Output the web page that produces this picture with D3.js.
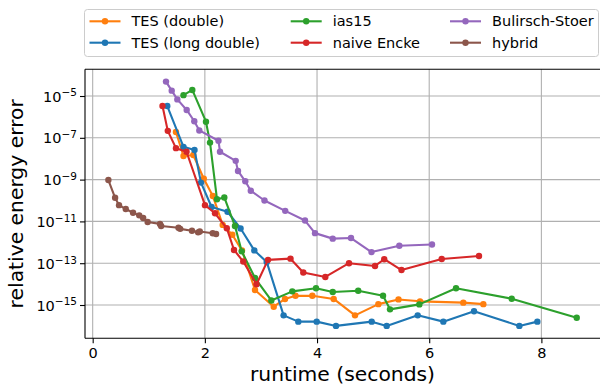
<!DOCTYPE html>
<html>
<head>
<meta charset="utf-8">
<script src="https://cdn.jsdelivr.net/npm/d3@7"></script>
<style>
  html, body { margin: 0; padding: 0; background: #fff; }
  svg { display: block; font-family: "DejaVu Sans", sans-serif; }
</style>
</head>
<body>
<svg id="chart" width="600" height="388"></svg>
<script>
// Runtime (seconds) and relative energy error for each integrator
const tesDoubleTime = [1.485, 1.619, 1.794, 1.981, 2.142, 2.318, 2.489, 2.662, 2.894, 3.228, 3.429, 3.616, 3.916, 4.297, 4.677, 5.093, 5.453, 5.836, 6.608, 6.965];
const tesDoubleErr  = [1.9e-7, 1.35e-8, 1.5e-8, 1.1e-9, 1.65e-10, 6.8e-12, 2.3e-12, 4.1e-13, 5.2e-15, 8.3e-16, 1.95e-15, 2.75e-15, 2.75e-15, 1.95e-15, 3.2e-16, 1.1e-15, 1.85e-15, 1.5e-15, 1.3e-15, 1.1e-15];

const tesLongTime = [1.330, 1.619, 1.815, 1.931, 2.120, 2.404, 2.637, 2.882, 3.103, 3.404, 3.666, 3.994, 4.338, 4.975, 5.242, 5.795, 6.252, 6.799, 7.607, 7.928];
const tesLongErr  = [3.3e-6, 3.7e-8, 2.6e-8, 7.2e-10, 4.9e-11, 2.9e-11, 4.6e-12, 4.1e-13, 1.15e-13, 3.2e-16, 1.6e-16, 1.6e-16, 1.0e-16, 1.6e-16, 1.0e-16, 3.2e-16, 1.6e-16, 5.0e-16, 1.0e-16, 1.6e-16];

const ias15Time = [1.619, 1.776, 2.020, 2.092, 2.216, 2.347, 2.537, 2.657, 2.894, 3.185, 3.559, 3.982, 4.280, 4.734, 5.177, 5.301, 5.824, 6.478, 7.471, 8.630];
const ias15Err  = [1.1e-5, 1.95e-5, 5.9e-7, 5.9e-8, 1.15e-10, 1.4e-10, 6.0e-12, 3.7e-13, 1.95e-14, 1.65e-15, 4.5e-15, 6.3e-15, 4.2e-15, 4.8e-15, 2.75e-15, 6.2e-16, 1.07e-15, 6.3e-15, 2.0e-15, 2.45e-16];

const enckeTime = [1.245, 1.339, 1.485, 1.673, 2.002, 2.181, 2.391, 2.520, 2.685, 2.921, 3.126, 3.527, 3.755, 4.148, 4.570, 5.034, 5.198, 5.506, 6.223, 6.888];
const enckeErr  = [3.3e-6, 2.15e-7, 3.2e-8, 2.15e-8, 6.0e-11, 2.45e-11, 4.7e-12, 4.3e-13, 1.2e-13, 9.8e-15, 1.45e-13, 1.65e-13, 3.6e-14, 2.2e-14, 1.0e-13, 7.4e-14, 1.55e-13, 4.7e-14, 1.6e-13, 2.2e-13];

const bsTime = [1.307, 1.409, 1.509, 1.676, 1.812, 1.901, 2.243, 2.270, 2.550, 2.591, 2.721, 2.819, 3.063, 3.433, 3.786, 3.964, 4.280, 4.606, 4.971, 5.467, 6.050];
const bsErr  = [4.9e-5, 1.8e-5, 6.9e-6, 2.15e-6, 6.2e-7, 2.25e-7, 7.2e-8, 2.15e-8, 7.9e-9, 2.6e-9, 8.3e-10, 2.95e-10, 1.0e-10, 3.2e-11, 1.1e-11, 2.75e-12, 1.5e-12, 1.6e-12, 3.4e-13, 6.8e-13, 7.9e-13];

const hybridTime = [0.28, 0.40, 0.47, 0.59, 0.72, 0.83, 0.90, 0.98, 1.20, 1.22, 1.53, 1.56, 1.77, 1.88, 1.91, 2.14, 2.20];
const hybridErr  = [9.5e-10, 1.35e-10, 6.0e-11, 3.9e-11, 2.6e-11, 1.95e-11, 1.45e-11, 9.3e-12, 7.6e-12, 6.0e-12, 5.0e-12, 4.4e-12, 3.55e-12, 3.0e-12, 3.3e-12, 2.7e-12, 2.5e-12];

const seriesNames  = ["TES (double)", "TES (long double)", "ias15", "naive Encke", "Bulirsch-Stoer", "hybrid"];
const seriesColors = ["#ff7f0e", "#1f77b4", "#2ca02c", "#d62728", "#9467bd", "#8c564b"];
const seriesTimes  = [tesDoubleTime, tesLongTime, ias15Time, enckeTime, bsTime, hybridTime];
const seriesErrs   = [tesDoubleErr, tesLongErr, ias15Err, enckeErr, bsErr, hybridErr];

const xTickValues = [0, 2, 4, 6, 8];
const yTickExponents = [-5, -7, -9, -11, -13, -15];

const svg = d3.select("#chart");
const plot = { left: 85, right: 600, top: 69.3, bottom: 338.3 };

const x = d3.scaleLinear().domain([-0.137, 9.045]).range([plot.left, plot.right]);
const y = d3.scaleLog().domain([Math.pow(10, -3.722), Math.pow(10, -16.593)]).range([plot.top, plot.bottom]);

// grid
const grid = svg.append("g").attr("class", "grid");
grid.selectAll("line.gx").data(xTickValues).join("line")
  .attr("x1", d => x(d)).attr("x2", d => x(d))
  .attr("y1", plot.top).attr("y2", plot.bottom)
  .attr("stroke", "#b0b0b0").attr("stroke-width", 1.1);
grid.selectAll("line.gy").data(yTickExponents).join("line")
  .attr("x1", plot.left).attr("x2", plot.right)
  .attr("y1", d => y(Math.pow(10, d))).attr("y2", d => y(Math.pow(10, d)))
  .attr("stroke", "#b0b0b0").attr("stroke-width", 1.1);

// series
const line = d3.line().x(d => x(d[0])).y(d => y(d[1]));
seriesNames.forEach((name, i) => {
  const pts = seriesTimes[i].map((t, j) => [t, seriesErrs[i][j]]);
  const g = svg.append("g").attr("class", "series");
  g.append("path").datum(pts)
    .attr("d", line).attr("fill", "none")
    .attr("stroke", seriesColors[i]).attr("stroke-width", 2.1)
    .attr("stroke-linejoin", "round");
  g.selectAll("circle").data(pts).join("circle")
    .attr("cx", d => x(d[0])).attr("cy", d => y(d[1]))
    .attr("r", 3.2).attr("fill", seriesColors[i]);
});

// axes
const xAxis = d3.axisBottom(x).tickValues(xTickValues).tickSize(5).tickPadding(4).tickFormat(d3.format("d"));
const gx = svg.append("g").attr("transform", `translate(0,${plot.bottom})`).call(xAxis);
gx.select(".domain").remove();
gx.selectAll("text").attr("font-size", 14.5).attr("font-family", "DejaVu Sans").attr("fill", "#000");
gx.selectAll("line").attr("stroke", "#000").attr("stroke-width", 1.1);

const yAxis = d3.axisLeft(y).tickValues(yTickExponents.map(e => Math.pow(10, e))).tickSize(5).tickPadding(4).tickFormat("");
const gy = svg.append("g").attr("transform", `translate(${plot.left},0)`).call(yAxis);
gy.select(".domain").remove();
gy.selectAll("line").attr("stroke", "#000").attr("stroke-width", 1.1);
gy.selectAll(".tick").each(function(d) {
  const e = Math.round(Math.log10(d));
  const t = d3.select(this).append("text")
    .attr("x", -8).attr("dy", "0.35em")
    .attr("text-anchor", "end").attr("fill", "#000")
    .attr("font-size", 14.5).attr("font-family", "DejaVu Sans");
  t.append("tspan").text("10");
  t.append("tspan").attr("dy", "-0.5em").attr("font-size", 10.5).text("\u2212" + Math.abs(e));
});

// spines
svg.append("line").attr("x1", plot.left).attr("x2", plot.left).attr("y1", plot.top).attr("y2", plot.bottom)
  .attr("stroke", "#000").attr("stroke-width", 1.1);
svg.append("line").attr("x1", plot.left).attr("x2", plot.right).attr("y1", plot.bottom).attr("y2", plot.bottom)
  .attr("stroke", "#000").attr("stroke-width", 1.1);
svg.append("line").attr("x1", plot.left).attr("x2", plot.right).attr("y1", plot.top).attr("y2", plot.top)
  .attr("stroke", "#000").attr("stroke-width", 1.1);

// axis labels
svg.append("text").attr("x", (plot.left + plot.right) / 2).attr("y", 381)
  .attr("text-anchor", "middle").attr("font-size", 20.3).attr("fill", "#000")
  .text("runtime (seconds)");
svg.append("text")
  .attr("transform", `translate(23,${(plot.top + plot.bottom) / 2}) rotate(-90)`)
  .attr("text-anchor", "middle").attr("font-size", 20.3).attr("fill", "#000")
  .text("relative energy error");

// legend (three columns, filled column by column)
const legend = svg.append("g").attr("class", "legend");
legend.append("rect").attr("x", 84.5).attr("y", 9.5).attr("width", 514).attr("height", 47)
  .attr("rx", 3).attr("fill", "#fff").attr("fill-opacity", 0.8)
  .attr("stroke", "#cccccc").attr("stroke-width", 1);
const colX = [89.5, 290.7, 450];
const rowY = [21.3, 42.7];
seriesNames.forEach((name, i) => {
  const cx = colX[Math.floor(i / 2)], cy = rowY[i % 2];
  legend.append("line").attr("x1", cx).attr("x2", cx + 31).attr("y1", cy).attr("y2", cy)
    .attr("stroke", seriesColors[i]).attr("stroke-width", 2.1);
  legend.append("circle").attr("cx", cx + 15.5).attr("cy", cy).attr("r", 3.2).attr("fill", seriesColors[i]);
  legend.append("text").attr("x", cx + 42).attr("y", cy).attr("dy", "0.35em")
    .attr("font-size", 14.5).attr("fill", "#000").text(name);
});
</script>
</body>
</html>
